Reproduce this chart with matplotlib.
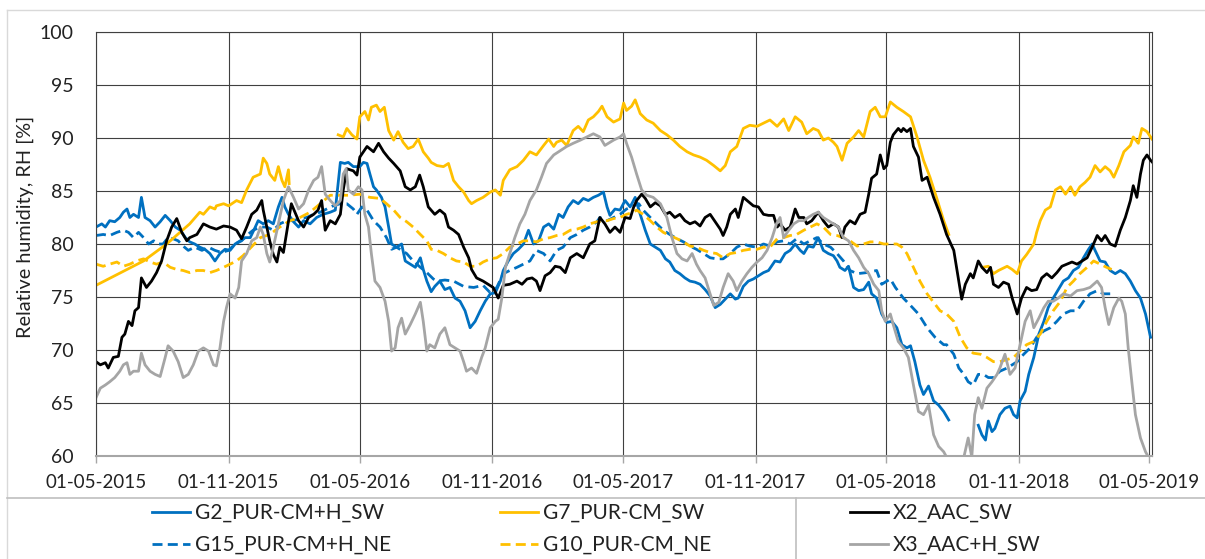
import numpy as np
import pandas as pd
import matplotlib
matplotlib.use("Agg")
import matplotlib.pyplot as plt
import matplotlib.dates as mdates
from matplotlib.lines import Line2D

plt.rcParams['font.family'] = ['Lato', 'DejaVu Sans']

START = pd.Timestamp('2015-05-01')
nan = np.nan

# Days since 01-05-2015 and relative humidity [%]; NaN marks a gap in the record
g2_day = [0, 8, 13, 19, 26, 33, 38, 43, 47, 52, 59, 63, 68, 75, 82, 89, 96, 103, 110, 117, 124, 130, 137, 144, 151,
          158, 165, 172, 179, 186, 193, 200, 207, 214, 221, 225, 232, 239, 246, 253, 258, 262, 267, 274, 281, 288,
          297, 306, 315, 325, 332, 339, 345, 350, 357, 366, 371, 376, 380, 385, 389, 396, 401, 406, 410, 417, 424,
          429, 436, 443, 450, 454, 459, 465, 470, 477, 484, 491, 498, 505, 512, 519, 526, 533, 540, 547, 554, 561,
          565, 572, 579, 586, 593, 600, 607, 614, 621, 628, 635, 642, 648, 655, 662, 669, 676, 683, 690, 697, 704,
          709, 713, 720, 727, 734, 741, 748, 755, 762, 769, 776, 783, 790, 796, 803, 810, 817, 824, 831, 838, 845,
          852, 859, 866, 873, 880, 887, 891, 898, 905, 912, 919, 926, 933, 942, 949, 956, 963, 970, 977, 982, 988,
          995, 1002, 1009, 1016, 1023, 1028, 1032, 1039, 1044, 1051, 1058, 1065, 1072, 1076, 1083, 1090, 1097, 1104,
          1111, 1118, 1125, 1130, 1136, 1143, 1148, 1155, 1162, 1169, 1176, 1183, 1200, 1224, 1229, 1234, 1238,
          1243, 1247, 1254, 1261, 1268, 1273, 1278, 1282, 1289, 1294, 1301, 1308, 1315, 1321, 1328, 1335, 1342,
          1349, 1356, 1363, 1370, 1377, 1382, 1386, 1393, 1400, 1407, 1414, 1421, 1428, 1435, 1442, 1449, 1456, 1463]
g2_rh = [81.6, 81.9, 81.6, 82.2, 82.1, 82.5, 83.0, 83.3, 82.5, 82.8, 82.5, 84.4, 82.5, 82.2, 81.6, 82.1, 82.7, 82.2,
         81.6, 81.3, 80.6, 80.2, 80.0, 79.7, 79.5, 79.1, 78.4, 79.1, 79.5, 79.4, 80.0, 80.3, 80.6, 80.6, 81.6, 82.2,
         81.9, 82.2, 81.9, 83.5, 84.4, 83.5, 82.8, 82.1, 81.6, 82.2, 81.9, 82.5, 82.8, 83.0, 83.2, 87.7, 87.6, 87.7,
         87.3, 87.3, 87.7, 87.6, 86.6, 85.4, 85.1, 84.4, 83.5, 81.6, 80.0, 79.7, 80.0, 78.4, 78.1, 77.8, 78.7, 77.6,
         76.5, 75.5, 76.0, 76.5, 75.7, 75.9, 74.9, 74.6, 73.7, 72.1, 72.7, 73.7, 74.6, 75.3, 75.4, 76.5, 77.5, 78.4,
         79.1, 79.5, 80.0, 81.3, 80.0, 80.3, 81.6, 81.9, 81.4, 82.8, 82.5, 83.5, 84.1, 83.8, 84.3, 84.1, 84.4, 84.6,
         84.9, 83.5, 82.7, 83.3, 83.2, 84.1, 83.5, 84.4, 82.8, 81.3, 80.0, 79.7, 79.4, 78.6, 78.3, 77.5, 77.2, 76.8,
         76.5, 76.4, 76.2, 75.7, 75.1, 74.0, 74.3, 74.8, 75.3, 74.8, 74.9, 76.0, 76.5, 76.7, 77.0, 77.3, 77.5, 78.4,
         78.3, 79.1, 79.4, 80.0, 79.4, 79.1, 79.8, 79.7, 80.6, 79.4, 79.1, 78.9, 78.4, 77.8, 77.5, 77.9, 75.9, 75.6,
         75.7, 76.4, 75.3, 74.9, 73.4, 72.6, 72.7, 72.1, 70.5, 70.2, 70.4, 68.9, 66.7, 65.8, 66.6, 65.2, 64.8, 64.2,
         63.4, nan, 62.9, 62.0, 61.5, 63.3, 62.3, 62.6, 63.9, 64.5, 64.7, 63.9, 63.6, 65.2, 66.1, 67.7, 69.3, 71.5,
         72.7, 74.0, 74.9, 75.7, 76.5, 76.8, 77.5, 77.8, 78.7, 79.5, 80.0, 79.4, 78.4, 78.3, 77.5, 77.2, 77.5, 77.2,
         76.5, 75.6, 74.9, 73.4, 71.2]

g15_day = [0, 10, 19, 29, 38, 45, 52, 59, 66, 73, 80, 87, 93, 100, 107, 114, 121, 128, 137, 147, 156, 165, 174, 184,
           193, 202, 209, 218, 228, 237, 246, 255, 265, 274, 283, 292, 302, 311, 320, 329, 339, 348, 357, 362, 369,
           376, 385, 394, 403, 410, 417, 424, 431, 440, 450, 459, 468, 473, 484, 496, 510, 524, 537, 547, 556, 565,
           574, 584, 593, 602, 611, 621, 630, 639, 648, 658, 667, 676, 685, 695, 699, 709, 718, 727, 736, 746, 753,
           759, 769, 778, 787, 796, 806, 815, 824, 833, 843, 852, 861, 870, 880, 889, 898, 907, 917, 926, 935, 945,
           954, 963, 972, 982, 991, 1000, 1009, 1019, 1028, 1037, 1046, 1056, 1069, 1083, 1090, 1102, 1109, 1120,
           1130, 1141, 1153, 1164, 1176, 1180, 1190, 1197, 1204, 1210, 1217, 1224, 1231, 1238, 1245, 1254, 1264,
           1278, 1287, 1296, 1305, 1315, 1324, 1333, 1342, 1352, 1361, 1370, 1379, 1389, 1398, 1407]
g15_rh = [80.8, 80.9, 80.8, 81.1, 81.3, 81.1, 80.6, 81.1, 80.6, 80.0, 80.3, 80.0, 80.0, 80.6, 80.5, 80.3, 79.8, 79.4,
          79.7, 79.4, 79.7, 79.4, 79.2, 79.4, 80.0, 80.3, 80.8, 81.3, 81.6, 81.6, 81.3, 81.9, 82.2, 82.2, 82.4, 82.5,
          82.8, 83.0, 83.3, 83.6, 83.8, 83.8, 83.3, 82.8, 83.5, 83.2, 82.2, 81.6, 80.6, 79.5, 79.7, 79.4, 79.1, 78.4,
          77.8, 77.3, 76.7, 76.5, 76.6, 76.5, 76.0, 75.9, 76.1, 75.4, 75.9, 77.2, 77.5, 77.8, 78.1, 78.4, 79.4, 79.1,
          78.4, 79.4, 79.7, 80.6, 80.9, 81.3, 81.6, 82.1, 82.5, 82.2, 82.5, 82.8, 83.3, 83.6, 83.8, 83.2, 82.5, 81.9,
          81.3, 80.9, 80.5, 80.2, 79.8, 79.5, 79.1, 78.7, 78.6, 78.6, 79.1, 79.7, 80.0, 79.8, 79.7, 80.0, 79.8, 80.2,
          80.3, 80.0, 80.5, 80.0, 80.3, 80.6, 80.0, 79.7, 79.1, 78.4, 77.5, 77.2, 77.3, 77.5, 76.2, 76.7, 75.9, 74.9,
          74.2, 73.4, 72.1, 71.2, 70.5, 70.5, 69.6, 68.3, 67.7, 67.0, 66.7, 67.7, 67.7, 67.4, 67.4, 68.0, 68.3, 68.9,
          69.6, 70.2, 71.2, 71.8, 72.1, 72.7, 73.4, 73.7, 73.7, 74.6, 75.3, 75.6, 75.3, 75.3]

g7_day = [0, 66, 98, 130, 144, 149, 158, 165, 167, 177, 184, 195, 202, 209, 218, 228, 232, 237, 241, 248, 253, 258,
          262, 267, 268, 300, 336, 343, 348, 355, 362, 366, 373, 378, 382, 389, 394, 400, 406, 413, 419, 426, 433,
          440, 447, 454, 461, 465, 473, 482, 489, 496, 503, 510, 517, 521, 528, 537, 547, 554, 561, 565, 574, 584,
          593, 602, 611, 621, 628, 635, 639, 646, 653, 662, 669, 676, 683, 690, 697, 702, 709, 718, 727, 732, 736,
          743, 748, 755, 764, 773, 783, 792, 801, 810, 820, 829, 838, 847, 857, 866, 873, 880, 889, 898, 907, 917,
          926, 935, 945, 954, 961, 970, 979, 986, 995, 1002, 1009, 1016, 1023, 1028, 1035, 1042, 1051, 1058, 1065,
          1074, 1081, 1088, 1095, 1102, 1111, 1120, 1130, 1139, 1148, 1157, 1166, 1176, 1183, 1205, 1230, 1238,
          1245, 1252, 1264, 1271, 1278, 1284, 1291, 1301, 1305, 1310, 1317, 1324, 1331, 1338, 1345, 1352, 1358,
          1365, 1372, 1379, 1386, 1393, 1400, 1407, 1412, 1419, 1426, 1435, 1439, 1446, 1451, 1458, 1465]
g7_rh = [76.1, 78.4, 80.0, 81.9, 83.0, 82.8, 83.5, 83.3, 83.6, 83.8, 83.6, 84.1, 83.9, 85.1, 86.3, 86.6, 88.1, 87.6,
         86.6, 86.0, 87.3, 86.0, 85.4, 87.0, 85.7, nan, 90.3, 90.1, 90.9, 90.3, 89.9, 92.0, 92.5, 91.7, 92.9, 93.1,
         92.5, 92.9, 90.7, 89.8, 90.6, 89.6, 89.0, 89.2, 89.9, 88.7, 88.1, 87.7, 87.4, 87.3, 87.6, 86.0, 85.4, 84.9,
         84.1, 83.8, 84.1, 84.4, 84.9, 85.1, 84.6, 86.0, 87.0, 87.3, 87.9, 88.7, 88.4, 89.3, 89.9, 89.2, 89.6, 89.8,
         89.3, 90.7, 91.1, 90.6, 91.7, 92.0, 92.5, 93.0, 92.0, 91.5, 91.8, 93.3, 92.6, 93.0, 93.6, 92.3, 91.7, 91.4,
         90.7, 90.3, 89.8, 89.2, 88.7, 88.4, 88.2, 87.9, 87.4, 86.9, 87.4, 88.7, 89.2, 90.9, 91.2, 91.1, 91.4, 91.7,
         91.1, 91.8, 90.7, 92.0, 91.5, 90.4, 90.9, 90.7, 89.8, 90.0, 89.6, 89.2, 87.9, 89.5, 90.1, 90.7, 90.1, 92.5,
         92.9, 92.0, 92.0, 93.4, 92.9, 92.5, 92.0, 90.1, 87.9, 86.3, 84.4, 82.2, 80.9, nan, 77.8, 77.9, 77.2, 77.5,
         77.9, 77.6, 77.2, 78.4, 79.0, 80.0, 81.1, 82.2, 83.2, 83.5, 85.1, 85.4, 84.7, 85.4, 84.6, 85.4, 85.8, 86.3,
         87.4, 86.8, 87.3, 86.9, 86.3, 87.4, 88.7, 89.3, 90.1, 89.5, 90.9, 90.6, 89.9]

g10_day = [0, 10, 19, 29, 38, 47, 56, 66, 75, 84, 93, 103, 112, 121, 130, 140, 149, 158, 167, 177, 186, 195, 204,
           211, 228, 241, 255, 269, 283, 297, 311, 325, 339, 352, 366, 380, 394, 403, 413, 422, 431, 440, 450, 459,
           465, 473, 482, 491, 500, 510, 519, 528, 537, 547, 556, 565, 574, 584, 593, 602, 611, 621, 630, 639, 648,
           658, 667, 676, 685, 695, 709, 718, 727, 736, 746, 750, 759, 769, 778, 787, 796, 806, 815, 824, 833, 843,
           852, 861, 870, 880, 889, 898, 907, 917, 926, 935, 945, 954, 963, 972, 982, 991, 1000, 1009, 1019, 1028,
           1037, 1046, 1056, 1065, 1074, 1083, 1093, 1102, 1111, 1118, 1125, 1134, 1143, 1153, 1162, 1171, 1180,
           1190, 1199, 1208, 1217, 1227, 1236, 1245, 1254, 1264, 1273, 1282, 1291, 1301, 1310, 1319, 1328, 1338,
           1347, 1356, 1365, 1375, 1384, 1393, 1402, 1409]
g10_rh = [78.1, 77.9, 78.1, 78.3, 77.9, 78.1, 78.4, 78.6, 78.3, 78.1, 78.3, 77.8, 77.6, 77.5, 77.3, 77.5, 77.5, 77.3,
          77.5, 77.8, 78.1, 78.4, 78.9, 79.4, 80.6, 80.9, 81.6, 82.2, 82.5, 83.0, 83.8, 84.6, 84.6, 84.6, 84.7, 84.4,
          84.3, 83.8, 83.2, 82.5, 82.1, 81.6, 80.9, 80.3, 79.5, 79.4, 79.1, 78.7, 78.4, 78.3, 77.9, 77.9, 78.3, 78.6,
          78.7, 79.1, 79.7, 80.0, 80.3, 80.3, 80.2, 80.5, 80.6, 80.8, 80.9, 81.3, 81.4, 81.6, 81.9, 82.1, 82.2, 82.4,
          82.5, 82.8, 83.0, 83.2, 82.8, 82.2, 81.6, 81.1, 80.8, 80.5, 80.2, 79.8, 79.7, 79.4, 79.2, 79.1, 78.7, 79.1,
          79.2, 79.4, 79.5, 79.5, 79.7, 79.7, 80.5, 80.6, 80.8, 80.9, 81.3, 81.6, 81.9, 81.6, 80.9, 80.8, 80.6, 80.3,
          79.8, 80.0, 80.2, 80.2, 80.0, 80.0, 80.0, 79.7, 79.1, 77.8, 76.5, 75.3, 74.5, 73.7, 73.4, 72.7, 71.2, 70.2,
          69.7, 69.6, 69.3, 68.9, 68.9, 69.1, 69.3, 69.9, 70.5, 70.8, 71.5, 72.7, 73.7, 74.6, 75.9, 76.5, 77.2, 77.8,
          78.4, 78.1, 77.8, 77.6]

x2_day = [0, 6, 13, 17, 24, 31, 36, 40, 45, 50, 54, 59, 63, 70, 77, 84, 91, 98, 105, 112, 119, 126, 130, 140, 149,
          158, 167, 177, 186, 195, 202, 209, 216, 223, 230, 232, 237, 241, 246, 251, 255, 260, 265, 271, 276, 281,
          288, 295, 302, 308, 313, 318, 325, 332, 339, 343, 348, 357, 362, 366, 376, 385, 392, 399, 406, 413, 422,
          429, 436, 443, 449, 454, 461, 470, 477, 484, 489, 496, 503, 510, 517, 521, 528, 537, 544, 551, 558, 565,
          574, 584, 591, 598, 605, 611, 616, 623, 630, 637, 644, 651, 658, 667, 676, 685, 692, 699, 706, 713, 720,
          727, 734, 741, 746, 750, 757, 762, 769, 776, 783, 790, 796, 803, 810, 817, 824, 831, 838, 845, 852, 859,
          866, 870, 875, 880, 887, 891, 898, 905, 912, 919, 926, 933, 940, 945, 949, 956, 963, 970, 975, 982, 986,
          993, 1002, 1009, 1016, 1023, 1030, 1035, 1039, 1046, 1053, 1060, 1067, 1072, 1076, 1083, 1088, 1093,
          1097, 1102, 1106, 1113, 1117, 1120, 1125, 1130, 1134, 1141, 1146, 1153, 1162, 1171, 1180, 1190, 1197,
          1201, 1206, 1213, 1217, 1224, 1229, 1236, 1241, 1245, 1252, 1259, 1266, 1271, 1278, 1284, 1291, 1298,
          1305, 1312, 1319, 1326, 1333, 1340, 1347, 1354, 1361, 1368, 1375, 1382, 1389, 1395, 1400, 1407, 1414,
          1421, 1428, 1435, 1439, 1444, 1449, 1453, 1458, 1463, 1467]
x2_rh = [68.9, 68.6, 68.8, 68.3, 69.3, 69.4, 71.2, 71.5, 72.7, 72.3, 73.7, 74.0, 76.8, 75.9, 76.5, 77.3, 78.4, 80.3,
         81.6, 82.4, 81.1, 80.3, 80.6, 80.9, 81.9, 81.6, 81.4, 81.7, 81.6, 81.3, 80.5, 81.6, 82.8, 83.2, 84.1, 83.2,
         81.6, 80.3, 79.0, 78.3, 79.7, 79.2, 81.3, 83.8, 83.0, 82.2, 81.6, 82.5, 82.8, 83.2, 84.1, 81.3, 82.2, 81.9,
         82.8, 85.1, 87.1, 86.9, 86.5, 88.2, 89.2, 88.7, 89.5, 88.7, 88.1, 87.6, 86.9, 85.4, 85.1, 85.4, 86.5, 85.4,
         83.5, 82.8, 83.2, 82.8, 81.6, 81.3, 80.9, 79.7, 78.7, 77.6, 76.8, 76.5, 76.2, 75.9, 74.9, 76.1, 76.2, 76.5,
         76.2, 76.7, 76.8, 76.5, 75.6, 77.0, 77.3, 77.9, 77.8, 77.3, 78.7, 79.1, 78.7, 80.0, 80.3, 82.5, 81.9, 81.1,
         81.6, 81.1, 82.5, 82.4, 83.5, 84.1, 84.7, 84.3, 83.5, 83.9, 83.6, 82.8, 83.0, 82.5, 82.8, 82.2, 81.9, 82.1,
         81.7, 82.5, 82.8, 82.1, 81.4, 80.8, 81.6, 82.8, 83.3, 82.5, 84.4, 84.0, 83.6, 83.5, 82.8, 82.7, 82.7, 81.6,
         81.9, 81.3, 81.6, 83.3, 82.5, 82.5, 81.9, 82.2, 83.0, 82.2, 81.6, 81.9, 81.6, 80.6, 81.6, 82.2, 81.9, 82.8,
         83.0, 84.7, 86.2, 86.6, 88.4, 87.1, 87.4, 89.6, 90.3, 90.9, 90.6, 90.9, 90.6, 90.9, 89.2, 88.2, 86.0, 86.3,
         84.4, 82.8, 80.9, 79.4, 76.5, 74.8, 76.2, 77.2, 76.8, 78.4, 77.8, 77.3, 77.8, 76.2, 75.9, 76.4, 76.2, 74.9,
         73.4, 74.9, 75.9, 75.6, 75.7, 76.8, 77.2, 76.8, 77.3, 77.9, 78.1, 78.3, 78.1, 78.4, 78.7, 79.7, 80.8, 80.3,
         80.8, 80.0, 79.8, 81.3, 82.5, 84.1, 85.5, 84.4, 86.6, 87.9, 88.4, 87.9, 87.6]

x3_day = [0, 6, 13, 19, 26, 33, 38, 43, 47, 52, 59, 63, 68, 75, 82, 89, 96, 100, 107, 114, 121, 128, 135, 142, 149,
          156, 163, 167, 172, 177, 181, 186, 193, 198, 202, 209, 216, 223, 228, 232, 237, 241, 246, 253, 260, 267,
          274, 281, 288, 295, 302, 308, 313, 318, 325, 332, 339, 343, 347, 350, 357, 364, 369, 373, 378, 382, 387,
          394, 401, 406, 410, 415, 419, 424, 429, 436, 443, 450, 454, 459, 463, 470, 477, 484, 491, 498, 505, 510,
          514, 521, 528, 535, 540, 547, 554, 558, 563, 568, 574, 581, 588, 595, 602, 611, 618, 625, 635, 644, 653,
          662, 672, 681, 690, 699, 706, 718, 727, 732, 736, 743, 750, 757, 764, 773, 783, 792, 799, 806, 813, 820,
          827, 833, 838, 845, 852, 857, 864, 870, 877, 884, 889, 896, 903, 910, 917, 924, 931, 938, 944, 949, 954,
          961, 968, 975, 982, 988, 995, 1002, 1009, 1016, 1023, 1030, 1037, 1044, 1051, 1058, 1065, 1072, 1079,
          1086, 1090, 1095, 1102, 1106, 1113, 1120, 1127, 1134, 1141, 1148, 1155, 1162, 1169, 1176, 1180, 1190,
          1198, 1204, 1210, 1215, 1219, 1224, 1229, 1236, 1243, 1250, 1254, 1261, 1268, 1275, 1282, 1289, 1296,
          1301, 1308, 1315, 1321, 1328, 1335, 1342, 1352, 1361, 1370, 1379, 1389, 1395, 1400, 1405, 1412, 1419,
          1423, 1428, 1432, 1437, 1442, 1449, 1456, 1460, 1465]
x3_rh = [65.5, 66.4, 66.7, 67.0, 67.4, 68.0, 68.6, 68.8, 67.7, 68.0, 68.0, 69.7, 68.6, 68.0, 67.7, 67.5, 69.3, 70.4,
         69.9, 68.9, 67.4, 67.7, 68.6, 69.9, 70.2, 69.9, 68.6, 68.5, 70.2, 72.7, 74.0, 75.3, 74.9, 75.9, 78.4, 79.1,
         80.3, 80.6, 81.6, 80.9, 79.1, 78.3, 79.7, 81.9, 84.1, 85.4, 84.4, 83.3, 83.8, 85.1, 86.0, 86.3, 87.3, 84.7,
         84.1, 83.6, 84.1, 86.6, 87.1, 85.1, 84.7, 85.4, 85.1, 82.8, 81.6, 79.1, 76.5, 75.9, 74.6, 72.7, 69.9, 70.2,
         72.1, 73.0, 71.5, 72.4, 73.4, 74.5, 72.7, 69.9, 70.5, 70.2, 71.5, 72.1, 70.5, 70.2, 69.9, 68.9, 68.0, 68.3,
         67.8, 69.3, 70.2, 72.1, 72.7, 72.9, 74.9, 77.8, 79.1, 80.6, 81.9, 82.8, 84.1, 85.1, 86.3, 87.6, 88.4, 88.8,
         89.2, 89.5, 89.8, 90.1, 90.4, 90.1, 89.3, 89.8, 90.1, 90.4, 89.5, 88.2, 86.6, 85.1, 84.6, 84.4, 83.8, 82.5,
         80.6, 79.1, 78.6, 78.4, 79.1, 78.1, 77.5, 76.8, 75.3, 74.2, 74.5, 75.9, 77.2, 76.5, 75.6, 76.5, 77.2, 77.8,
         78.3, 78.7, 79.4, 80.6, 81.9, 82.5, 80.6, 81.3, 81.9, 82.2, 82.2, 82.5, 82.8, 83.0, 82.5, 82.2, 81.9, 81.6,
         80.6, 80.3, 79.4, 78.7, 77.8, 77.2, 76.2, 75.6, 73.7, 72.7, 73.4, 72.4, 70.8, 70.2, 69.3, 66.7, 64.2, 63.9,
         64.8, 62.0, 60.9, 60.4, 59.9, 59.0, 58.8, 59.9, 61.7, 59.9, 63.9, 65.5, 64.5, 66.4, 67.0, 67.7, 68.3, 69.6,
         67.7, 68.3, 70.5, 72.7, 73.7, 72.1, 73.0, 74.0, 74.6, 74.6, 74.9, 75.3, 75.1, 75.6, 75.7, 75.9, 76.5, 75.9,
         74.0, 72.4, 74.0, 74.9, 74.6, 73.4, 70.2, 67.0, 63.9, 61.7, 60.4, 59.9, 59.5]

series_names = ["G2_PUR-CM+H_SW", "G15_PUR-CM+H_NE", "G7_PUR-CM_SW",
                "G10_PUR-CM_NE", "X2_AAC_SW", "X3_AAC+H_SW"]
series_days = [g2_day, g15_day, g7_day, g10_day, x2_day, x3_day]
series_rh = [g2_rh, g15_rh, g7_rh, g10_rh, x2_rh, x3_rh]
series_colors = ["#0070C0", "#0070C0", "#FFC000", "#FFC000", "#000000", "#A5A5A5"]
series_dashed = [False, True, False, True, False, False]

W, H = 1205, 559
fig = plt.figure(figsize=(W / 100, H / 100), dpi=100)
ax = fig.add_axes([96 / W, 1 - 456 / H, (1152 - 96) / W, (456 - 32) / H])

handles = []
for name, d, rh, col, dashed in zip(series_names, series_days, series_rh, series_colors, series_dashed):
    dates = START + pd.to_timedelta(np.asarray(d, dtype=float), unit='D')
    kw = dict(color=col, lw=2.0, solid_joinstyle='round', label=name)
    if dashed:
        kw.update(ls=(0, (3.6, 1.9)), dash_capstyle='butt')
    ln, = ax.plot(dates, np.asarray(rh, dtype=float), **kw)
    handles.append(ln)

ax.set_xlim(START, START + pd.Timedelta(days=1465))
ax.set_ylim(60, 100)
ax.set_yticks(np.arange(60, 101, 5))
ax.xaxis.set_major_locator(mdates.MonthLocator(bymonth=(5, 11), bymonthday=1))
ax.xaxis.set_major_formatter(mdates.DateFormatter('%d-%m-%Y'))

grid_col = '#404040'
ax.grid(True, color=grid_col, lw=0.8)
ax.set_axisbelow(True)
for side in ('top', 'right', 'left'):
    ax.spines[side].set_color(grid_col)
    ax.spines[side].set_linewidth(0.8)
ax.spines['bottom'].set_color('#A6A6A6')
ax.spines['bottom'].set_linewidth(1.5)

ax.tick_params(axis='x', length=5, width=1, color='#A6A6A6', labelsize=13.5, pad=8, labelcolor='#222222')
ax.tick_params(axis='y', length=0, labelsize=14, pad=16, labelcolor='#222222')
ax.set_ylabel('Relative humidity, RH [%]', fontsize=14.3, color='#222222')
ax.yaxis.set_label_coords(-0.059, 0.54)

# legend in three columns of two entries
leg_cols = [(152, [0, 1]), (500, [2, 3]), (850, [4, 5])]
for x0, idx in leg_cols:
    leg = fig.legend(handles=[handles[i] for i in idx], loc='upper left',
                     bbox_to_anchor=(x0 / W, 1 - 503 / H), bbox_transform=fig.transFigure,
                     frameon=False, borderpad=0, borderaxespad=0, fontsize=15,
                     handlelength=1.8, handletextpad=0.25, labelspacing=0.58)
    for t in leg.get_texts():
        t.set_color('#222222')

# chart and legend frames
frame_col = '#D9D9D9'
fig.add_artist(Line2D([7.5 / W, 1], [1 - 10 / H, 1 - 10 / H], transform=fig.transFigure, color=frame_col, lw=1))
fig.add_artist(Line2D([7.5 / W, 7.5 / W], [0, 1 - 10 / H], transform=fig.transFigure, color=frame_col, lw=1))
fig.add_artist(Line2D([7.5 / W, 1], [1 - 498 / H, 1 - 498 / H], transform=fig.transFigure, color='#BFBFBF', lw=1.2))
fig.add_artist(Line2D([796 / W, 796 / W], [0, 1 - 498 / H], transform=fig.transFigure, color='#BFBFBF', lw=1.2))

fig.savefig('out.png', dpi=100, facecolor='white')
